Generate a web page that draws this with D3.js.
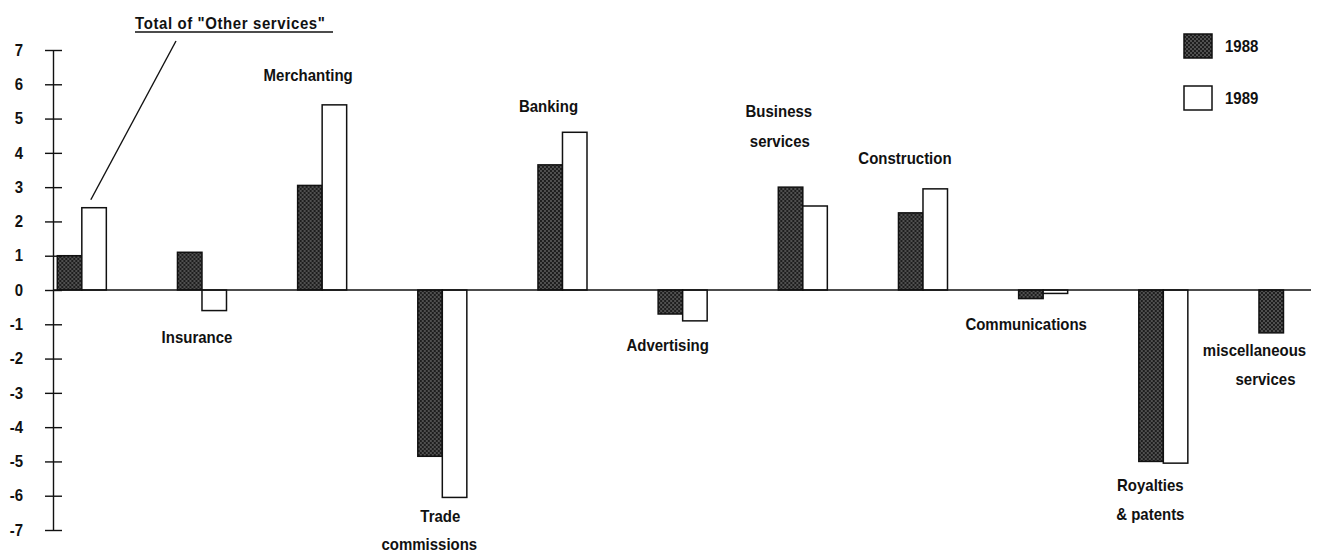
<!DOCTYPE html>
<html>
<head>
<meta charset="utf-8">
<script src="https://cdn.jsdelivr.net/npm/d3@7"></script>
<style>
  html, body { margin: 0; padding: 0; background: #ffffff; }
  svg { display: block; }
  text { font-family: "Liberation Sans", Arial, Helvetica, sans-serif; font-weight: bold; fill: #111; }
</style>
</head>
<body>
<svg id="chart" width="1341" height="553"></svg>
<script>
// Change in net receipts, "Other services" components
const categories = [
  "Total", "Insurance", "Merchanting", "Trade commissions", "Banking", "Advertising",
  "Business services", "Construction", "Communications", "Royalties & patents", "miscellaneous services"
];
const years = ["1988", "1989"];
const values1988 = [1.0, 1.1, 3.05, -4.85, 3.65, -0.7, 3.0, 2.25, -0.25, -5.0, -1.25];
const values1989 = [2.4, -0.6, 5.4, -6.05, 4.6, -0.9, 2.45, 2.95, -0.1, -5.05, 0];
const yTicks = [7, 6, 5, 4, 3, 2, 1, 0, -1, -2, -3, -4, -5, -6, -7];
const titleText = "Total of \"Other services\"";

// Category label placement (lines, horizontal offset from group centre, baselines)
const labelLayout = [
  null,
  { lines: ["Insurance"], dx: [-5], y: [343] },
  { lines: ["Merchanting"], dx: [-14], y: [81] },
  { lines: ["Trade", "commissions"], dx: [-2, -13], y: [522, 550] },
  { lines: ["Banking"], dx: [-14], y: [112] },
  { lines: ["Advertising"], dx: [-15], y: [351] },
  { lines: ["Business", "services"], dx: [-24, -23], y: [117, 147] },
  { lines: ["Construction"], dx: [-18], y: [164] },
  { lines: ["Communications"], dx: [-17], y: [330] },
  { lines: ["Royalties", "& patents"], dx: [-13, -13], y: [491, 520] },
  { lines: ["miscellaneous", "services"], dx: [-29, -18], y: [356, 385] }
];

const svg = d3.select("#chart");
const stretch = "scale(1,1.1)";

// Stippled fill for the 1988 bars
const defs = svg.append("defs");
const pat = defs.append("pattern")
  .attr("id", "stipple").attr("patternUnits", "userSpaceOnUse")
  .attr("width", 4).attr("height", 4);
pat.append("rect").attr("width", 4).attr("height", 4).attr("fill", "#1e1e1e");
pat.append("circle").attr("cx", 1).attr("cy", 1).attr("r", 0.75).attr("fill", "#9a9a9a");
pat.append("circle").attr("cx", 3).attr("cy", 3).attr("r", 0.75).attr("fill", "#9a9a9a");

const y = d3.scaleLinear().domain([-7, 7]).range([530, 50]);
const x = d3.scaleBand().domain(categories).range([57.3, 1308])
  .paddingInner(0.592).paddingOuter(0).align(0);
const xInner = d3.scaleBand().domain(years).range([0, x.bandwidth()]).padding(0);

const rows = categories.map((c, i) => ({ cat: c, v: [values1988[i], values1989[i]] }));

// Bars
const groups = svg.append("g").selectAll("g").data(rows).join("g")
  .attr("transform", d => `translate(${x(d.cat)},0)`);
groups.selectAll("rect")
  .data(d => years.map((yr, k) => ({ yr, v: d.v[k] })))
  .join("rect")
  .attr("x", d => xInner(d.yr))
  .attr("width", xInner.bandwidth())
  .attr("y", d => y(Math.max(0, d.v)))
  .attr("height", d => Math.abs(y(d.v) - y(0)))
  .attr("fill", d => d.yr === "1988" ? "url(#stipple)" : "#ffffff")
  .attr("stroke", "#111")
  .attr("stroke-width", 1.5);

// Zero line
svg.append("line")
  .attr("x1", 53).attr("x2", 1311)
  .attr("y1", y(0)).attr("y2", y(0))
  .attr("stroke", "#111").attr("stroke-width", 1.5);

// Vertical axis with ticks crossing the line
const axis = svg.append("g").attr("transform", "translate(53,0)")
  .call(d3.axisLeft(y).tickValues(yTicks).tickSize(8).tickSizeOuter(0).tickPadding(22)
    .tickFormat(d => String(d)));
axis.select(".domain").attr("stroke", "#111").attr("stroke-width", 1.4);
axis.selectAll(".tick line").attr("x1", 9).attr("stroke", "#111").attr("stroke-width", 1.4);
axis.selectAll(".tick text")
  .attr("font-family", "Liberation Sans, Arial, sans-serif")
  .attr("font-weight", "bold")
  .attr("font-size", 15)
  .attr("fill", "#111")
  .attr("transform", stretch);

// Category labels
function drawText(px, py, str, size, anchor, extra) {
  const t = svg.append("g").attr("transform", `translate(${px},${py}) ${stretch}`)
    .append("text").attr("text-anchor", anchor || "middle")
    .attr("font-size", size).text(str);
  if (extra) extra(t);
  return t;
}
labelLayout.forEach((lab, i) => {
  if (!lab) return;
  const cx = x(categories[i]) + x.bandwidth() / 2;
  lab.lines.forEach((ln, k) => drawText(cx + lab.dx[k], lab.y[k], ln, 15));
});

// Annotation for the total
drawText(135, 29, titleText, 15, "start", t => t.attr("letter-spacing", 0.6));
svg.append("line")
  .attr("x1", 135).attr("x2", 333).attr("y1", 32).attr("y2", 32)
  .attr("stroke", "#111").attr("stroke-width", 1.3);
svg.append("line")
  .attr("x1", 176).attr("y1", 41)
  .attr("x2", x("Total") + xInner("1989") + 9)
  .attr("y2", y(values1989[0]) - 8)
  .attr("stroke", "#111").attr("stroke-width", 1.4);

// Legend
const legend = svg.append("g").selectAll("g").data(years).join("g")
  .attr("transform", (d, i) => `translate(1184,${34 + i * 52})`);
legend.append("rect")
  .attr("width", 28).attr("height", 24)
  .attr("fill", d => d === "1988" ? "url(#stipple)" : "#ffffff")
  .attr("stroke", "#111").attr("stroke-width", 1.5);
legend.each(function (d) {
  d3.select(this).append("g").attr("transform", `translate(41,18) ${stretch}`)
    .append("text").attr("font-size", 15).text(d);
});
</script>
</body>
</html>
